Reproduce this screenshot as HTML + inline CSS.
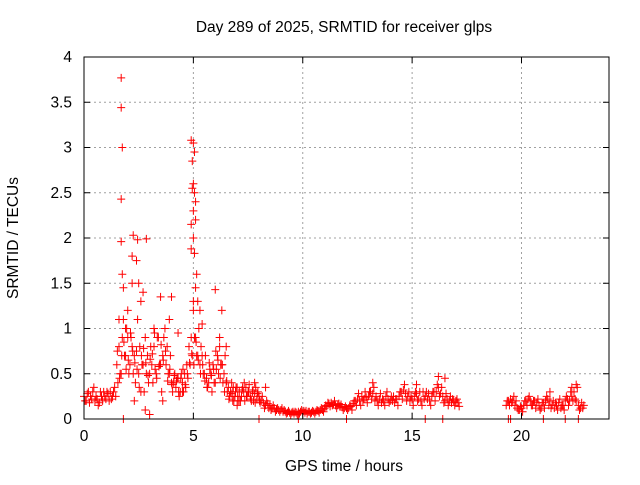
<!DOCTYPE html>
<html><head><meta charset="utf-8"><style>
body{margin:0;background:#fff}
svg text{font-family:"Liberation Sans",sans-serif;font-size:15.5px;fill:#000}
</style></head><body>
<svg id="chart" width="640" height="480" xmlns="http://www.w3.org/2000/svg">
<rect width="640" height="480" fill="#fff"/>
<g id="grid"></g>
<g id="marks"></g>
<rect x="84" y="57" width="525" height="362" fill="none" stroke="#000" stroke-width="1"/>
<g id="ticks"></g>
<text x="344" y="32" text-anchor="middle">Day 289 of 2025, SRMTID for receiver glps</text>
<text x="344" y="471" text-anchor="middle">GPS time / hours</text>
<text x="18" y="238" text-anchor="middle" transform="rotate(-90 18 238)">SRMTID / TECUs</text>
</svg>
<script>
const xTicks=[0,5,10,15,20];
const yTicks=[0,0.5,1,1.5,2,2.5,3,3.5,4];
const yTickLabels=["0","0.5","1","1.5","2","2.5","3","3.5","4"];
const seg1Start=0.0;
const seg1Values=[0.25,0.2,0.3,0.25,0.3,0.2,0.22,0.18,0.25,0.3,0.22,0.28,0.3,0.25,0.35,
0.6,0.8,0.5,1.1,0.7,0.9,
0.6,0.8,0.7,0.75,0.5,0.3,0.6,0.9,0.7,0.5,
0.6,0.8,0.5,0.9,0.6,0.7,1.0,0.8,0.5,0.4,
0.4,0.35,0.45,0.3,0.4,0.5,0.6,0.8,0.9,1.2,
0.9,0.7,0.6,0.7,0.5,0.45,0.4,0.5,0.6,0.4,
0.7,0.8,0.6,0.5,0.4,0.35,0.3,0.3,0.25,0.35,
0.3,0.25,0.3,0.35,0.3,0.25,0.3,0.28,0.22,0.25,
0.2,0.18,0.15,0.17,0.15,0.12,0.12,0.1,0.1,0.1,
0.08,0.08,0.07,0.07,0.07,0.06,0.07,0.08,0.08,0.07,
0.07,0.06,0.08,0.07,0.08,0.08,0.09,0.1,0.1,0.12,
0.14,0.17,0.18,0.16,0.15,0.15,0.14,0.13,0.12,0.12,
0.12,0.14,0.17,0.2,0.22,0.2,0.25,0.22,0.24,0.25,
0.3,0.28,0.2,0.2,0.22,0.18,0.2,0.25,0.22,0.2,
0.2,0.18,0.22,0.25,0.3,0.32,0.28,0.25,0.2,0.22,
0.25,0.28,0.22,0.2,0.3,0.25,0.22,0.2,0.25,0.3,
0.3,0.35,0.28,0.25,0.2,0.22,0.2,0.18,0.2,0.2,0.18];
const seg1Spread=[0.2,0.28,0.18,0.22,0.35,0.25,0.15,0.3,0.2,0.25,0.3,0.2,0.22,0.3,0.25,
0.4,0.5,0.9,0.7,1.0,0.5,
0.9,0.5,0.4,1.1,0.8,0.6,0.3,0.5,0.4,0.8,
0.4,0.55,0.9,0.6,0.3,0.9,0.6,0.5,0.7,0.3,
0.5,0.45,0.25,0.5,0.3,0.35,0.45,0.6,0.7,0.9,
0.7,1.0,0.8,0.5,0.7,0.35,0.55,0.3,0.4,0.55,
0.5,0.6,0.4,0.7,0.3,0.25,0.4,0.2,0.35,0.2,
0.2,0.35,0.2,0.25,0.38,0.2,0.2,0.35,0.3,0.18,
0.25,0.12,0.2,0.12,0.1,0.15,0.08,0.12,0.08,0.12,
0.1,0.06,0.09,0.05,0.08,0.08,0.05,0.06,0.1,0.09,
0.09,0.08,0.06,0.09,0.06,0.1,0.07,0.12,0.08,0.15,
0.18,0.14,0.15,0.2,0.12,0.17,0.16,0.1,0.14,0.1,
0.15,0.1,0.2,0.15,0.28,0.15,0.2,0.3,0.18,0.3,
0.22,0.35,0.25,0.15,0.28,0.22,0.15,0.3,0.18,0.25,
0.25,0.22,0.15,0.3,0.22,0.38,0.2,0.3,0.25,0.15,
0.3,0.2,0.3,0.15,0.22,0.3,0.28,0.15,0.3,0.2,
0.38,0.25,0.35,0.18,0.28,0.15,0.25,0.22,0.15,0.22,0.14];
const seg1bStart=1.5;
const seg1bSpread=[0.75,0.45,0.7,0.85,0.55,0.65,0.95,0.75,0.62,0.55,0.35,0.7,0.78,0.62,0.48,0.66,0.72,0.95,0.45,0.58,0.82,0.65,0.75,0.42,0.55,0.38,0.48,0.42,0.3,0.45,0.55,0.38,0.5,0.62,0.72,0.6,0.85,0.65,0.5,0.6,0.42,0.35,0.62,0.48,0.55,0.75,0.65,0.45,0.6,0.3,0.42,0.22,0.28,0.35,0.3,0.25,0.2,0.32,0.4,0.25,0.3,0.22,0.32,0.18,0.28,0.2];
const seg2Start=19.3;
const seg2Values=[0.15,0.2,0.22,0.2,0.15,0.12,0.1,0.12,0.15,0.2,0.22,0.2,0.15,0.2,0.18,0.15,0.12,0.18,0.2,0.22,0.2,0.15,0.12,0.15,0.18,0.12,0.15,0.2,0.22,0.2,0.25,0.3,0.2,0.15,0.12,0.12];
const seg2Spread=[0.2,0.15,0.18,0.25,0.2,0.1,0.14,0.08,0.2,0.15,0.25,0.15,0.2,0.12,0.22,0.1,0.18,0.12,0.25,0.15,0.12,0.2,0.18,0.1,0.22,0.15,0.1,0.25,0.15,0.3,0.2,0.22,0.35,0.1,0.18,0.15];
const outlierTimes=[1.7,1.7,1.75,1.7,1.7,2.25,2.45,2.85,2.2,2.4,1.75,1.8,2.5,2.7,3.5,4.0,4.9,5.0,5.05,4.95,5.0,4.95,5.05,5.1,5.0,5.1,4.9,5.0,4.9,5.05,5.15,5.1,5.2,5.0,5.3,6.0,5.4,3.2,3.9,4.3,2.0,2.6,1.9,2.3,2.8,3.0,4.5,3.6,2.2,1.6,6.3,6.2,6.5,6.8,7.0,1.8,7.8,8.3,13.2,15.2,16.2,16.5,22.5,22.3,21.3,19.4,19.5,21.0,22.0,22.6,9.8,12.0,15.6,16.4,8.0];
const outlierValues=[3.77,3.44,3.0,2.43,1.96,2.03,1.98,1.99,1.8,1.75,1.6,1.45,1.5,1.4,1.35,1.35,3.08,3.05,2.95,2.85,2.6,2.55,2.5,2.4,2.3,2.2,2.15,2.0,1.88,1.83,1.6,1.45,1.3,1.3,1.2,1.43,1.05,1.0,1.1,0.95,1.2,1.3,1.0,0.2,0.1,0.05,0.3,0.2,1.5,1.1,1.2,0.9,0.8,0.2,0.15,0.0,0.4,0.35,0.4,0.38,0.47,0.45,0.38,0.35,0.3,0.0,0.0,0.0,0.0,0.0,0.0,0.0,0.0,0.0,0.0];

const X0=84,X1=609,Y0=419,Y1=57,XMAX=24,YMAX=4;
const xs=v=>X0+(X1-X0)*v/XMAX;
const ys=v=>Y0-(Y0-Y1)*v/YMAX;
const NS="http://www.w3.org/2000/svg";
const grid=document.getElementById('grid'),ticks=document.getElementById('ticks'),marks=document.getElementById('marks');
function mk(tag,attrs,parent){const e=document.createElementNS(NS,tag);for(const k in attrs)e.setAttribute(k,attrs[k]);parent.appendChild(e);return e;}
xTicks.forEach(t=>{
  const x=xs(t);
  if(t>0){const g=mk('line',{x1:x,x2:x,y1:Y1,y2:Y0,stroke:'#a0a0a0','stroke-dasharray':'2,3'},grid);
  
  }
  const a=mk('line',{x1:x,x2:x,y1:Y0,y2:Y0-6,stroke:'#000'},ticks);
  
  
  const b=mk('line',{x1:x,x2:x,y1:Y1,y2:Y1+6,stroke:'#000'},ticks);
  
  
  const l=mk('text',{x:x,y:Y0+22,'text-anchor':'middle'},ticks);l.textContent=String(t);
  
  
});
yTicks.forEach((t,i)=>{
  const y=ys(t);
  if(t>0&&t<YMAX){const g=mk('line',{x1:X0,x2:X1,y1:y,y2:y,stroke:'#a0a0a0','stroke-dasharray':'2,3'},grid);
  
  }
  const a=mk('line',{x1:X0,x2:X0+6,y1:y,y2:y,stroke:'#000'},ticks);
  
  
  const b=mk('line',{x1:X1,x2:X1-6,y1:y,y2:y,stroke:'#000'},ticks);
  
  
  const l=mk('text',{x:X0-12,y:y+5,'text-anchor':'end'},ticks);l.textContent=yTickLabels[i];
  
  
});
function cross(t,v){
  const x=xs(t),y=ys(v);
  const p=mk('path',{d:`M${x-4},${y}h8M${x},${y-4}v8`,stroke:'#f00','stroke-width':1,fill:'none'},marks);
  
  
}
seg1Values.forEach((v,i)=>cross(seg1Start+i*0.1,v));
seg1Spread.forEach((v,i)=>cross(seg1Start+i*0.1+0.05,v));
seg1bSpread.forEach((v,i)=>cross(seg1bStart+i*0.1+0.025,v));
seg2Values.forEach((v,i)=>cross(seg2Start+i*0.1,v));
seg2Spread.forEach((v,i)=>cross(seg2Start+i*0.1+0.05,v));
outlierTimes.forEach((t,i)=>cross(t,outlierValues[i]));
</script>
</body></html>
